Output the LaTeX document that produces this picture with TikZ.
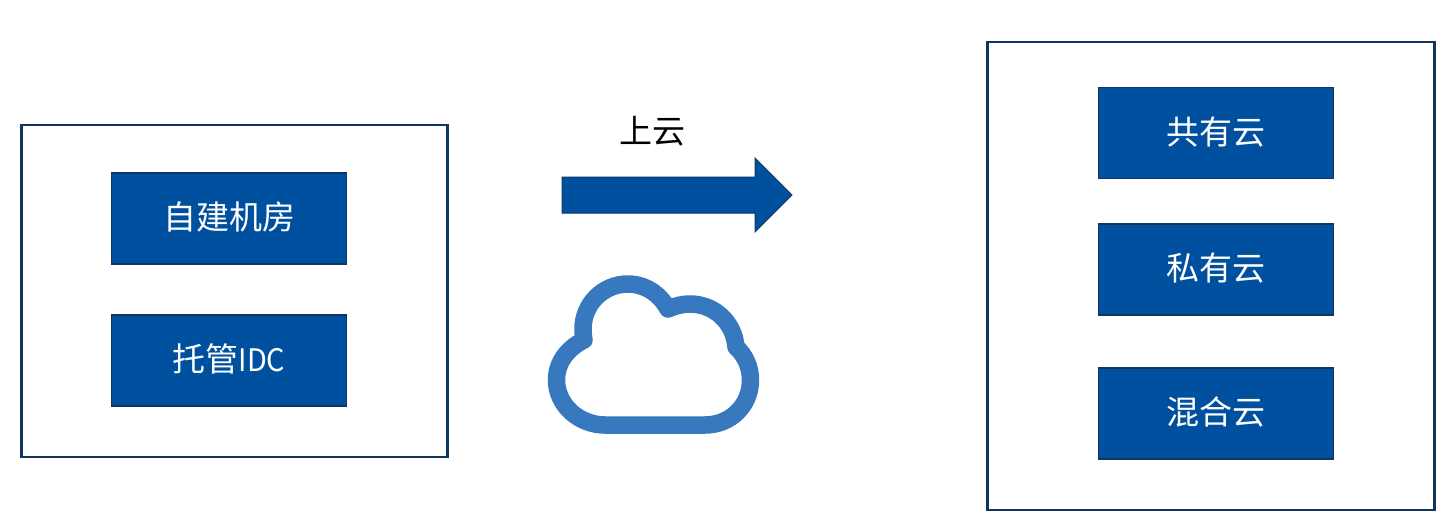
\documentclass[tikz,border=0pt]{standalone}
\usepackage{fontspec}
\usepackage{graphicx}
\setmainfont{Noto Sans CJK SC}
\definecolor{boxblue}{HTML}{0050A0}
\definecolor{navy}{HTML}{0F3560}
\definecolor{cloudblue}{HTML}{3778BF}
\newcommand{\liftedtext}[1]{\raisebox{-11pt}[12pt][12pt]{#1}}
\newcommand{\latinpart}[1]{\scalebox{0.93}[1]{\fontsize{31}{36}\selectfont #1}}
\tikzset{
  framebox/.style={draw=navy,line width=2.1pt,fill=white,rectangle,inner sep=0pt},
  itembox/.style={draw=navy,line width=1.3pt,fill=boxblue,rectangle,inner sep=0pt,
    minimum width=235pt,minimum height=91pt,text=white,font=\fontsize{33}{36}\selectfont},
  label/.style={text=black,font=\fontsize{33}{36}\selectfont,inner sep=0pt}
}
\begin{document}
\begin{tikzpicture}[x=1pt,y=-1pt]
\useasboundingbox[fill=white] (0,0) rectangle (1449,523);
\node[framebox,minimum width=426pt,minimum height=332pt] (left) at (234.5,291) {};
\node[framebox,minimum width=447pt,minimum height=468pt] (right) at (1211,276) {};
\node[itembox] (zijian) at (229,218.5) {\liftedtext{自建机房}};
\node[itembox] (tuoguan) at (229,360.5) {\liftedtext{托管\latinpart{IDC}}};
\node[itembox] (gongyou) at (1216,133) {\liftedtext{共有云}};
\node[itembox] (siyou) at (1216,269.5) {\liftedtext{私有云}};
\node[itembox] (hunhe) at (1216,413.5) {\liftedtext{混合云}};
\node[label] (shangyun) at (652,131) {上云};
\draw[draw=navy,line width=1pt,fill=boxblue,line join=miter]
  (562,177) -- (755,177) -- (755,158) -- (792,195) -- (755,232) -- (755,213) -- (562,213) -- cycle;
\draw[cloudblue,line width=17.5pt,line join=round,line cap=round]
  (605,425) -- (705,425)
  .. controls (731,425) and (750.5,405) .. (750.5,380)
  .. controls (750.5,367) and (745,355) .. (736,347)
  .. controls (734,322) and (714,304) .. (690,304)
  .. controls (682,304) and (675,306) .. (668,309)
  .. controls (660,294) and (645,284) .. (628,284)
  .. controls (603,284) and (583,304) .. (583,329)
  .. controls (583,333) and (583.5,337) .. (584,340)
  .. controls (568,348) and (556.5,362) .. (556.5,380)
  .. controls (556.5,405) and (579,425) .. (605,425) -- cycle;
\end{tikzpicture}
\end{document}
